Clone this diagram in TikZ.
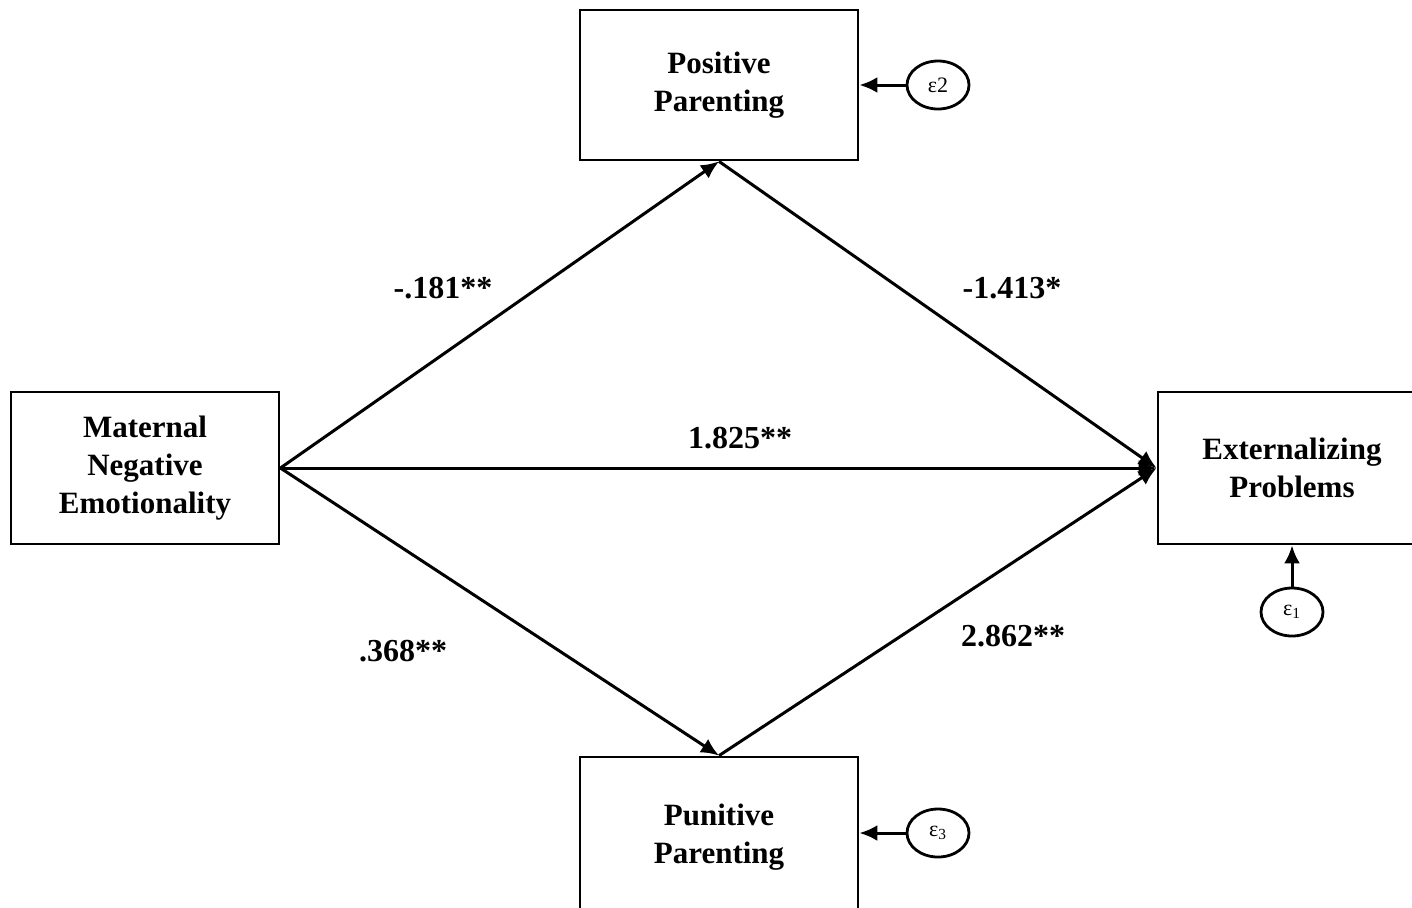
\documentclass[tikz,border=0pt]{standalone}
\usepackage{fontspec}
\setmainfont{Liberation Serif}
\usetikzlibrary{arrows.meta,calc,shapes.geometric}
\tikzset{
  pArrow/.style={line width=1.5pt,-{Latex[length=9pt,width=8pt]}},
  pBox/.style={draw,line width=1.4pt,align=center,inner sep=0pt,
        font=\fontsize{15.5}{19}\selectfont\bfseries},
  pErr/.style={draw,ellipse,line width=1.4pt,inner sep=0pt,
        minimum width=31pt,minimum height=24pt,font=\fontsize{11}{11}\selectfont},
  pLabel/.style={font=\fontsize{16}{18}\selectfont\bfseries},
}
\begin{document}
\begin{tikzpicture}[x=0.5pt,y=-0.5pt]
\useasboundingbox (0,0) rectangle (1412,907);
\node[pBox,minimum width=139pt,minimum height=75pt] (pos) at (719,85)  {Positive\\Parenting};
\node[pBox,minimum width=134pt,minimum height=76pt] (mat) at (145,468) {Maternal\\Negative\\Emotionality};
\node[pBox,minimum width=134pt,minimum height=76pt] (ext) at (1292,468) {Externalizing\\Problems};
\node[pBox,minimum width=139pt,minimum height=80pt] (pun) at (719,837) {Punitive\\Parenting};
\node[pErr] (e2) at (938,85)  {ε2};
\node[pErr] (e3) at (938,833) {ε\textsubscript{3}};
\node[pErr] (e1) at (1292,612) {ε\textsubscript{1}};
\draw[pArrow] (mat.east) -- (pos.south);
\draw[pArrow] (pos.south) -- (ext.west);
\draw[pArrow] (mat.east) -- (ext.west);
\draw[pArrow] (mat.east) -- (pun.north);
\draw[pArrow] (pun.north) -- (ext.west);
\draw[pArrow] (e2) -- (pos.east);
\draw[pArrow] (e3.west) -- (e3.west -| pun.east);
\draw[pArrow] (e1) -- (ext.south);
\node[pLabel] (l1) at (443,288)  {-.181**};
\node[pLabel] (l2) at (1012,288) {-1.413*};
\node[pLabel] (l3) at (740,438)  {1.825**};
\node[pLabel] (l4) at (403,651)  {.368**};
\node[pLabel] (l5) at (1013,636) {2.862**};
\end{tikzpicture}
\end{document}
